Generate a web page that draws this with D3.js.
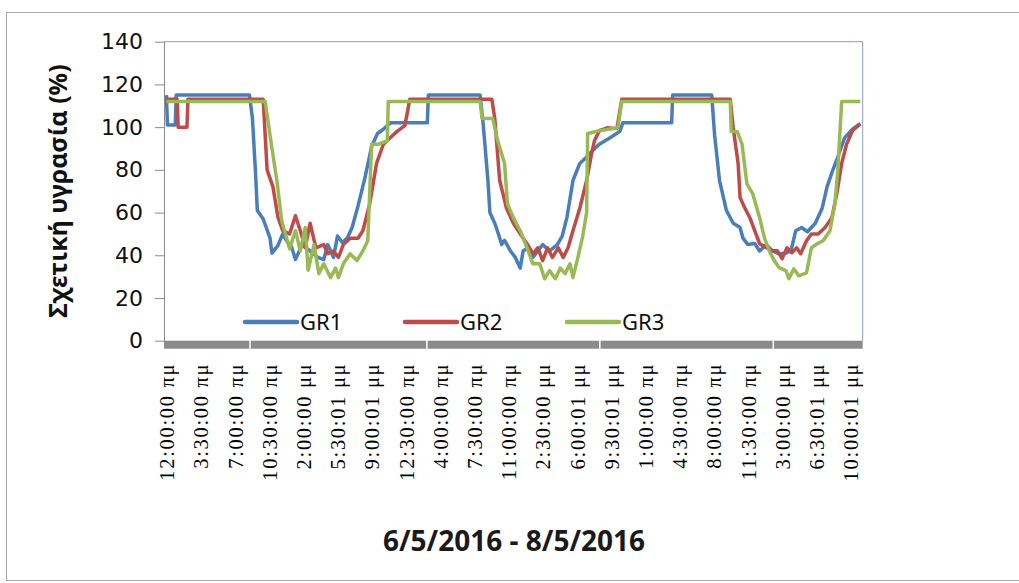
<!DOCTYPE html>
<html>
<head>
<meta charset="utf-8">
<script src="https://cdn.jsdelivr.net/npm/d3@7/dist/d3.min.js"></script>
<style>
  body { margin: 0; background: #fff; }
  svg { display: block; }
</style>
</head>
<body>
<svg id="chart" width="1019" height="583"></svg>
<script>
// hours since 6/5/2016 00:00
const gr1Hours = [0, 0.1, 0.9, 1.0, 8.5, 8.8, 9.1, 9.3, 9.9, 10.6, 10.8, 11.4, 11.9, 12.4, 12.8, 13.2, 13.9, 14.7, 15.5, 16.1, 16.5, 17.1, 17.5, 18.0, 18.5, 19.0, 19.6, 20.3, 21.0, 21.6, 22.2, 22.9, 26.7, 26.8, 32.1, 32.4, 32.9, 33.1, 33.6, 33.9, 34.3, 34.6, 35.2, 35.7, 36.2, 36.5, 37.0, 37.5, 38.0, 38.5, 39.2, 40.0, 40.5, 41.0, 41.6, 42.3, 43.0, 43.6, 44.3, 45.4, 46.4, 46.7, 51.7, 51.8, 55.8, 56.1, 56.6, 57.3, 58.0, 58.7, 59.0, 59.5, 60.2, 60.7, 61.4, 62.0, 62.7, 63.4, 63.9, 64.4, 65.0, 65.6, 66.4, 67.1, 67.6, 68.2, 68.7, 69.4, 70.2, 71.0];
const gr1Values = [115, 101, 101, 115, 115, 104, 80, 61, 57, 48, 41, 44.5, 50, 46, 44, 38, 45, 42, 39, 38, 45, 39, 49, 46, 48, 53, 63, 76, 91, 97, 99, 102, 102, 115, 115, 102, 75, 60, 55, 51, 45, 47, 42, 39, 34, 42, 43.5, 39, 42, 45, 42, 45, 49, 58, 75, 83, 86, 89, 92, 95, 98, 102, 102, 115, 115, 96, 75, 61, 55, 53, 48, 45, 45.5, 42, 45, 42, 40.7, 41, 42, 51.5, 53, 51, 55, 62, 72, 80, 86, 95, 99, 101.6];

const gr2Hours = [0, 1.1, 1.2, 2.1, 2.2, 9.9, 10.3, 10.9, 11.4, 11.9, 12.6, 13.2, 13.7, 14.2, 14.7, 15.3, 16.1, 16.5, 17.1, 17.6, 18.1, 18.8, 19.6, 20.1, 20.8, 21.5, 22.2, 22.9, 23.6, 24.4, 24.9, 33.3, 33.6, 34.1, 34.8, 35.5, 36.2, 36.9, 37.5, 38.0, 38.5, 39.0, 39.5, 40.1, 40.6, 41.1, 41.6, 42.3, 43.0, 43.5, 43.8, 44.3, 45.1, 46.1, 46.6, 57.7, 58.0, 58.5, 58.7, 59.2, 59.7, 60.2, 60.7, 61.4, 62.0, 62.5, 63.0, 63.5, 64.0, 64.5, 64.9, 65.5, 66.0, 66.7, 67.4, 68.1, 68.6, 69.1, 69.6, 70.2, 71.0];
const gr2Values = [113, 113, 100, 100, 113, 113, 80, 72, 58, 51.5, 50, 58.5, 51.5, 43.5, 55, 43.5, 45, 40.7, 42, 39, 45, 48, 48, 51.5, 64, 83, 92, 95, 98, 100.7, 113, 113, 104, 75, 62, 55, 50, 45.4, 40.7, 43.5, 37.5, 43.5, 39, 43.5, 39, 43.5, 51.5, 62, 75, 87.5, 93.6, 98.3, 99.7, 99.3, 113, 113, 99.7, 83, 67, 62, 57.6, 51.5, 45.4, 43.5, 42.1, 42.1, 38.4, 43.5, 41.2, 43.5, 40.7, 46.8, 50, 50, 53, 57.6, 68.8, 83, 92, 98.3, 101.6];

const gr3Hours = [0, 10.1, 10.8, 11.3, 11.8, 12.3, 12.6, 13.2, 13.7, 14.2, 14.5, 15.1, 15.6, 16.1, 16.8, 17.3, 17.6, 18.1, 18.8, 19.5, 20.1, 20.6, 21.0, 21.7, 22.6, 22.7, 32.1, 32.3, 33.4, 33.9, 34.6, 34.9, 35.5, 36.2, 36.9, 37.5, 38.2, 38.7, 39.2, 39.8, 40.3, 40.8, 41.3, 41.6, 42.1, 42.6, 43.0, 43.1, 44.3, 46.2, 46.6, 57.7, 57.8, 58.4, 58.9, 59.4, 60.0, 60.7, 61.2, 61.7, 62.2, 62.7, 63.4, 63.7, 64.2, 64.7, 65.5, 66.0, 66.6, 67.2, 67.9, 68.4, 68.7, 69.1, 71.0];
const gr3Values = [112, 112, 90, 75, 56, 48, 43, 51.5, 42, 53, 33, 45, 31.4, 36, 29.5, 34, 29.5, 36, 40.7, 37.5, 42, 46.8, 92, 92, 93.6, 112, 112, 104, 104, 93.6, 83, 64, 57.6, 51.5, 43.5, 36, 36, 29, 32.8, 29, 34, 31.4, 36, 29.5, 38.9, 49, 60, 97, 98.3, 99.7, 112, 112, 98, 98, 92, 73.5, 68.8, 57.6, 48, 42, 37.5, 34.2, 32.8, 29, 33.7, 30.4, 31.8, 43.5, 45.4, 46.8, 51.5, 64, 79.6, 112, 112];

const seriesNames = ["GR1", "GR2", "GR3"];
const yTicks = [0, 20, 40, 60, 80, 100, 120, 140];
const labelHours = [0, 3.5, 7, 10.5, 14, 17.5, 21, 24.5, 28, 31.5, 35, 38.5, 42, 45.5, 49, 52.5, 56, 59.5, 63, 66.5, 70];
const labelTexts = ["12:00:00 πμ", "3:30:00 πμ", "7:00:00 πμ", "10:30:00 πμ", "2:00:00 μμ", "5:30:01 μμ", "9:00:01 μμ",
  "12:30:00 πμ", "4:00:00 πμ", "7:30:00 πμ", "11:00:00 πμ", "2:30:00 μμ", "6:00:01 μμ", "9:30:01 μμ",
  "1:00:00 πμ", "4:30:00 πμ", "8:00:00 πμ", "11:30:00 πμ", "3:00:00 μμ", "6:30:01 μμ", "10:00:01 μμ"];
const bandTickHours = [8.55, 26.65, 44.35, 62.1];

const colors = ["#4a7ebb", "#be4b48", "#98b954"];
const sans = "'Noto Sans', 'DejaVu Sans', sans-serif";

const svg = d3.select("#chart");
const plot = { left: 164, right: 862.7, top: 41.7, bottom: 340.7 };

// outer frame of the chart object
svg.append("rect")
  .attr("x", 6.5).attr("y", 12.5)
  .attr("width", 1100).attr("height", 568)
  .attr("fill", "#fff")
  .attr("stroke", "#a8a8a8");

const x = d3.scaleLinear().domain([-0.25, 71.25]).range([plot.left, plot.right]);
const y = d3.scaleLinear().domain([0, 140]).range([plot.bottom, plot.top]);

// plot area border (top and right)
svg.append("line")
  .attr("x1", plot.left).attr("x2", plot.right)
  .attr("y1", plot.top).attr("y2", plot.top)
  .attr("stroke", "#9a9a9a");
svg.append("line")
  .attr("x1", plot.right).attr("x2", plot.right)
  .attr("y1", plot.top).attr("y2", plot.bottom)
  .attr("stroke", "#8d9dbd");

// y axis
let yAxis = svg.append("g")
  .attr("transform", "translate(" + plot.left + ",0)")
  .call(d3.axisLeft(y).tickValues(yTicks).tickSize(9).tickSizeOuter(0).tickPadding(12));
yAxis.select(".domain").attr("stroke", "#8a8a8a");
yAxis.selectAll(".tick line").attr("stroke", "#8a8a8a");
yAxis.selectAll(".tick text")
  .attr("font-family", "'DejaVu Sans', sans-serif")
  .attr("font-size", 22)
  .attr("fill", "#111");

svg.append("text")
  .attr("transform", "translate(67,191) rotate(-90)")
  .attr("text-anchor", "middle")
  .attr("font-family", sans)
  .attr("font-weight", "bold")
  .attr("font-size", 25)
  .attr("fill", "#111")
  .text("Σχετική υγρασία (%)");

// the lines
let line = d3.line()
  .x(d => x(d[0]))
  .y(d => y(d[1]));

let series = [
  d3.zip(gr1Hours, gr1Values),
  d3.zip(gr2Hours, gr2Values),
  d3.zip(gr3Hours, gr3Values)
];

svg.append("g")
  .selectAll("path")
  .data(series).enter()
  .append("path")
    .attr("d", line)
    .attr("fill", "none")
    .attr("stroke", (d, i) => colors[i])
    .attr("stroke-width", 3.5)
    .attr("stroke-linejoin", "round");

// x axis: thick grey band with white ticks
svg.append("rect")
  .attr("x", plot.left).attr("y", plot.bottom)
  .attr("width", plot.right - plot.left).attr("height", 8)
  .attr("fill", "#8b8b8b");
svg.append("g")
  .selectAll("line")
  .data(bandTickHours).enter()
  .append("line")
    .attr("x1", d => x(d)).attr("x2", d => x(d))
    .attr("y1", plot.bottom - 1).attr("y2", plot.bottom + 8)
    .attr("stroke", "#fff")
    .attr("stroke-width", 1.5);

let xAxis = svg.append("g")
  .attr("transform", "translate(0," + plot.bottom + ")")
  .call(d3.axisBottom(x).tickValues(labelHours).tickSize(0).tickFormat((d, i) => labelTexts[i]));
xAxis.select(".domain").remove();
xAxis.selectAll(".tick text")
  .attr("transform", "translate(0,22) rotate(-90)")
  .attr("x", 0).attr("y", 0)
  .attr("dy", "0.35em")
  .attr("text-anchor", "end")
  .attr("font-family", "'Liberation Serif', 'Times New Roman', serif")
  .attr("font-size", 20.5)
  .attr("letter-spacing", 1.7)
  .attr("fill", "#000");

svg.append("text")
  .attr("x", 514).attr("y", 551)
  .attr("text-anchor", "middle")
  .attr("font-family", sans)
  .attr("font-weight", "bold")
  .attr("font-size", 28)
  .attr("fill", "#1a1a1a")
  .text("6/5/2016 - 8/5/2016");

// legend inside the plot
let legendX = [245, 405, 567];
let legend = svg.append("g")
  .selectAll("g")
  .data(seriesNames).enter()
  .append("g")
    .attr("transform", (d, i) => "translate(" + legendX[i] + ",322)");
legend.append("line")
  .attr("x1", 0).attr("x2", 52)
  .attr("stroke", (d, i) => colors[i])
  .attr("stroke-width", 4.5)
  .attr("stroke-linecap", "round");
legend.append("text")
  .attr("x", 55).attr("y", 8)
  .attr("font-family", sans)
  .attr("font-size", 22)
  .attr("fill", "#111")
  .text(d => d);
</script>
</body>
</html>
